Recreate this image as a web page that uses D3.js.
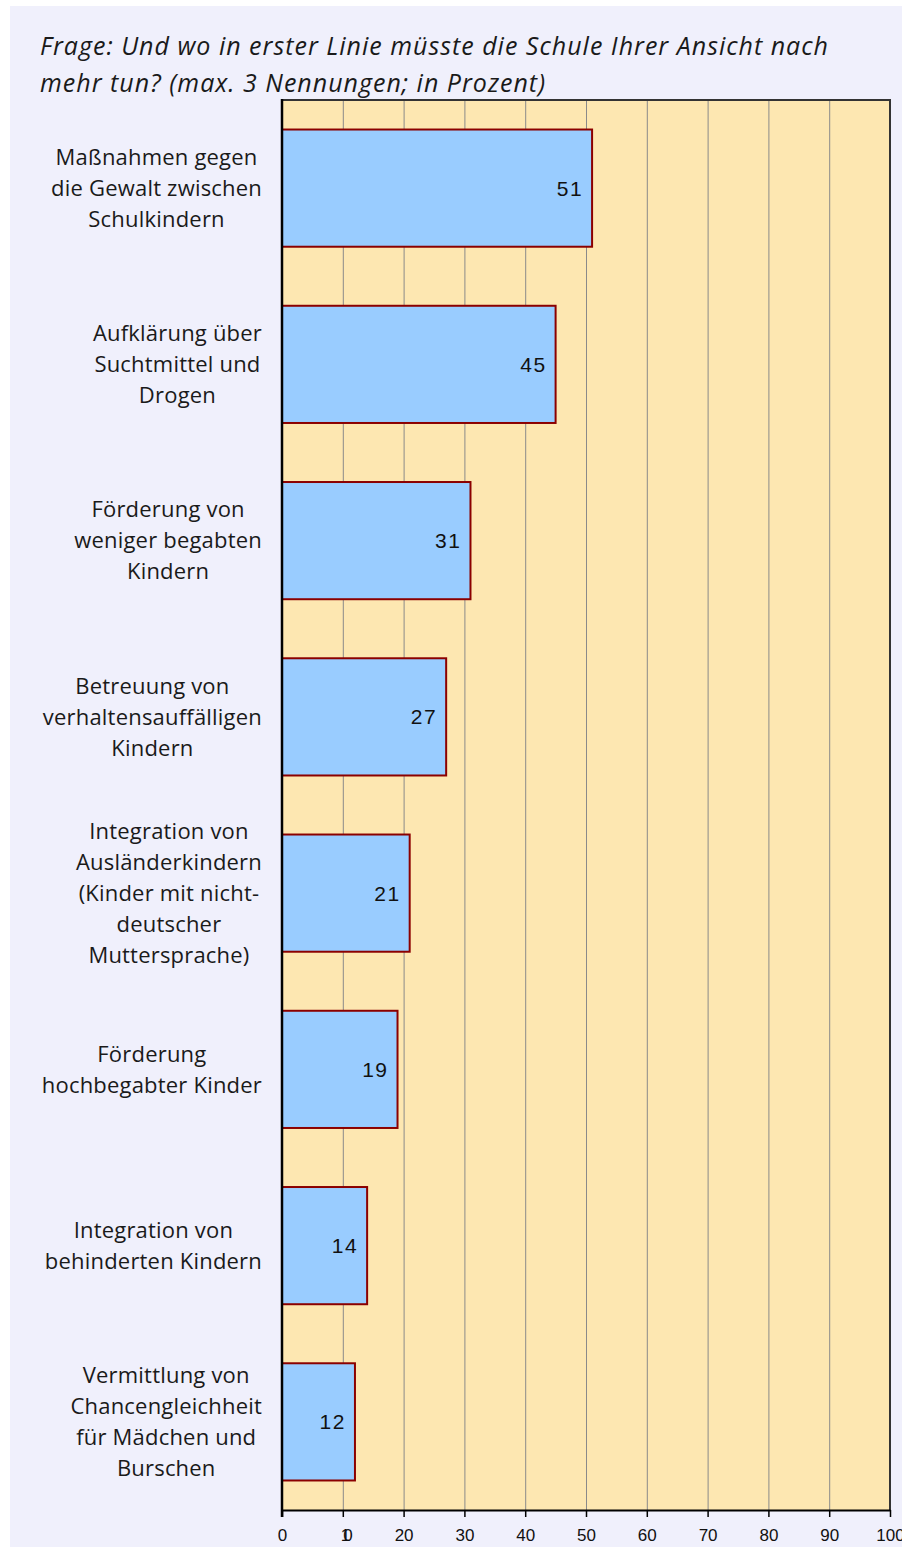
<!DOCTYPE html>
<html><head><meta charset="utf-8">
<script src="https://cdn.jsdelivr.net/npm/d3@7"></script>
<style>
html,body{margin:0;padding:0;background:#fff;}
svg{display:block;}
</style></head>
<body>
<script>
const titleLines = [
  "Frage: Und wo in erster Linie müsste die Schule Ihrer Ansicht nach",
  "mehr tun? (max. 3 Nennungen; in Prozent)"
];
const categories = [
  ["Maßnahmen gegen", "die Gewalt zwischen", "Schulkindern"],
  ["Aufklärung über", "Suchtmittel und", "Drogen"],
  ["Förderung von", "weniger begabten", "Kindern"],
  ["Betreuung von", "verhaltensauffälligen", "Kindern"],
  ["Integration von", "Ausländerkindern", "(Kinder mit nicht-", "deutscher", "Muttersprache)"],
  ["Förderung", "hochbegabter Kinder"],
  ["Integration von", "behinderten Kindern"],
  ["Vermittlung von", "Chancengleichheit", "für Mädchen und", "Burschen"]
];
const values = [51, 45, 31, 27, 21, 19, 14, 12];
const tickValues = [0, 10, 20, 30, 40, 50, 60, 70, 80, 90, 100];

const W = 902, H = 1548;
const svg = d3.select("body").append("svg").attr("width", W).attr("height", H);

svg.append("rect").attr("x", 10).attr("y", 6).attr("width", W - 10).attr("height", H - 7)
  .attr("fill", "#f0f0fc");

const plot = {left: 282, right: 890, top: 100, bottom: 1510};
const x = d3.scaleLinear().domain([0, 100]).range([plot.left, plot.right]);
const y = d3.scaleBand().domain(d3.range(values.length))
  .range([plot.top, plot.bottom]).paddingInner(0.335).paddingOuter(0.1675);

// plot background
svg.append("rect").attr("x", plot.left).attr("y", plot.top)
  .attr("width", plot.right - plot.left).attr("height", plot.bottom - plot.top)
  .attr("fill", "#fde7b1");

// gridlines
svg.append("g").selectAll("line").data(tickValues.slice(1, -1)).join("line")
  .attr("x1", d => x(d) + 0.5).attr("x2", d => x(d) + 0.5)
  .attr("y1", plot.top).attr("y2", plot.bottom)
  .attr("stroke", "#8a8a8a").attr("stroke-width", 1);

// frame top/right
svg.append("path")
  .attr("d", `M${plot.left},${plot.top} H${plot.right} V${plot.bottom}`)
  .attr("fill", "none").attr("stroke", "#333").attr("stroke-width", 2);

// bars
svg.append("g").selectAll("rect").data(values).join("rect")
  .attr("x", x(0)).attr("y", (d, i) => y(i))
  .attr("width", d => x(d) - x(0)).attr("height", y.bandwidth())
  .attr("fill", "#99ccff").attr("stroke", "#8b0000").attr("stroke-width", 2);

// value labels
svg.append("g").selectAll("text").data(values).join("text")
  .attr("x", d => x(d) - 9).attr("y", (d, i) => y(i) + y.bandwidth() / 2)
  .attr("dy", "0.36em").attr("text-anchor", "end")
  .attr("font-family", "'Liberation Sans', Arial, sans-serif")
  .attr("font-size", 21).attr("letter-spacing", "1.5px").attr("fill", "#111")
  .text(d => d);

// x axis
const xAxis = d3.axisBottom(x).tickValues(tickValues).tickSize(7).tickSizeOuter(0);
const gx = svg.append("g").attr("transform", `translate(0,${plot.bottom})`).call(xAxis);
gx.select(".domain").attr("stroke", "#000").attr("stroke-width", 2);
gx.selectAll(".tick line").attr("stroke", "#000").attr("stroke-width", 1.5);
gx.selectAll(".tick text")
  .attr("font-family", "'Liberation Sans', Arial, sans-serif")
  .attr("font-size", 17).attr("fill", "#111").attr("y", 19).attr("dy", "0.71em")
  .attr("letter-spacing", d => d === 10 ? "-7px" : null);

// left axis line
svg.append("line").attr("x1", plot.left).attr("x2", plot.left)
  .attr("y1", plot.top - 1).attr("y2", plot.bottom + 7)
  .attr("stroke", "#000").attr("stroke-width", 2.5);

// category labels
const lineH = 31;
const labelFont = "'Open Sans', 'Noto Sans', sans-serif";
const gl = svg.append("g");
categories.forEach((lines, i) => {
  const t = gl.append("text")
    .attr("font-family", labelFont).attr("font-size", 22).attr("fill", "#1a1a1a")
    .attr("letter-spacing", "0.2px")
    .attr("text-anchor", "middle");
  const cy = y(i) + y.bandwidth() / 2;
  const spans = t.selectAll("tspan").data(lines).join("tspan")
    .attr("y", (d, j) => cy + (j - (lines.length - 1) / 2) * lineH)
    .attr("dy", "0.35em").text(d => d);
  let maxW = 0;
  spans.each(function () { maxW = Math.max(maxW, this.getComputedTextLength()); });
  spans.attr("x", 262 - maxW / 2);
});

// title
svg.append("text").attr("font-family", labelFont).attr("font-style", "italic")
  .attr("font-size", 25).attr("letter-spacing", "1px").attr("fill", "#1a1a1a")
  .selectAll("tspan").data(titleLines).join("tspan")
  .attr("x", 40).attr("y", (d, i) => 55 + i * 37).text(d => d);
</script>
</body></html>
